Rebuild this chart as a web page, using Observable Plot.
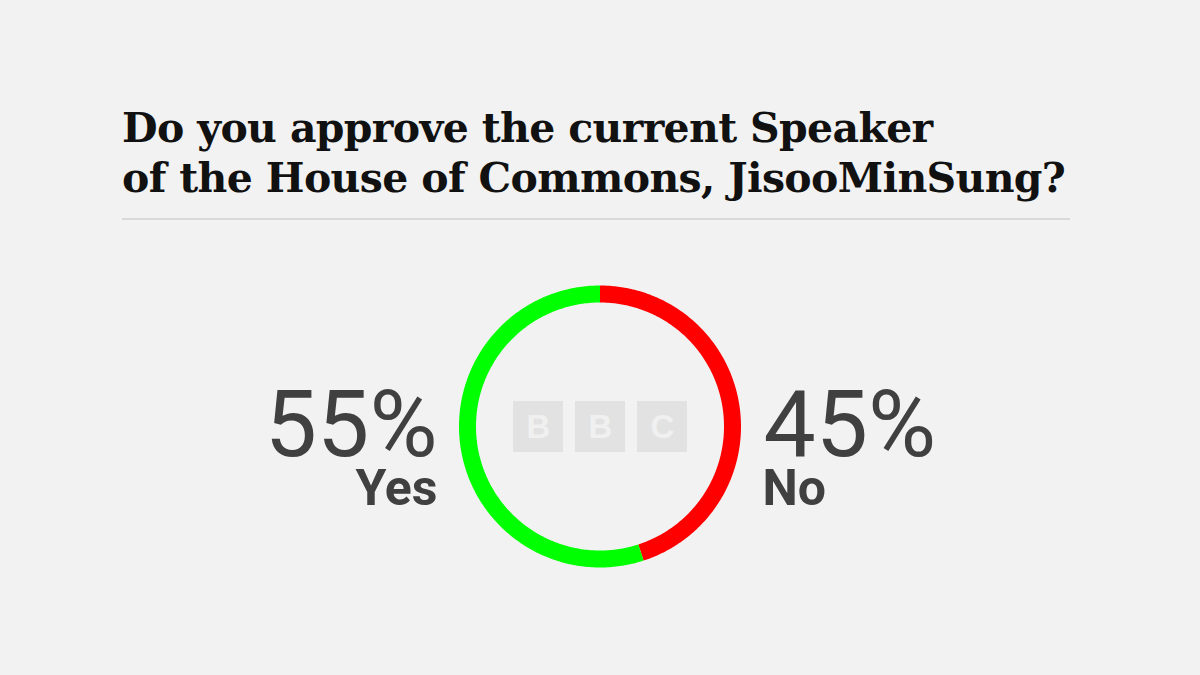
<!DOCTYPE html>
<html>
<head>
<meta charset="utf-8">
<script src="https://cdn.jsdelivr.net/npm/d3@7"></script>
<script src="https://cdn.jsdelivr.net/npm/@observablehq/plot@0.6"></script>
<style>
  html, body { margin: 0; padding: 0; background: #f2f2f2; }
  #page { position: relative; width: 1200px; height: 675px; overflow: hidden; background: #f2f2f2; }
  #header { position: relative; width: 1200px; height: 230px; }
  #title { position: absolute; left: 122px; top: 104px; margin: 0;
    font-family: "DejaVu Serif", serif; font-weight: bold; font-size: 41px; line-height: 49.5px;
    letter-spacing: -0.65px; color: #111; white-space: nowrap; }
  #rule { position: absolute; left: 122px; top: 218px; width: 948px; height: 2px; background: #d9d9d9; }
  #chart svg { display: block; }
</style>
</head>
<body>
<div id="page">
  <div id="header">
    <h1 id="title"></h1>
    <div id="rule"></div>
  </div>
  <div id="chart"></div>
</div>
<script>
// ---- data ----
const titleLines = ["Do you approve the current Speaker", "of the House of Commons, JisooMinSung?"];
const answers = ["No", "Yes"];
const shares = [45, 55];
const colors = ["#ff0000", "#00ff00"];
const logoLetters = ["B", "B", "C"];

// ---- title ----
document.getElementById("title").innerHTML = titleLines.join("<br>");

// ---- derived tables ----
const results = answers.map((a, i) => ({answer: a, share: shares[i], label: shares[i] + "%"}));
const total = d3.sum(shares);
const innerR = 124 / 141;
const ring = [];
let start = 0;
results.forEach(r => {
  const end = start + r.share / total * 2 * Math.PI;
  const n = 240;
  for (let k = 0; k <= n; k++) {
    const a = start + (end - start) * k / n;
    ring.push({answer: r.answer,
      xo: Math.sin(a), yo: Math.cos(a),
      xi: innerR * Math.sin(a), yi: innerR * Math.cos(a)});
  }
  start = end;
});
const u = 1 / 141; // one pixel in ring units
const logo = logoLetters.map((l, i) => ({letter: l, cx: (i - 1) * 62 * u}));

const cy = 196.5, R = 141, cx = 600;
const pctFont = "Roboto, 'Liberation Sans', sans-serif";

const chart = Plot.plot({
  width: 1200,
  height: 445,
  margin: 0,
  style: {background: "transparent", overflow: "visible"},
  x: {domain: [-1, 1], range: [cx - R, cx + R], axis: null},
  y: {domain: [-1, 1], range: [cy + R, cy - R], axis: null},
  color: {domain: answers, range: colors},
  marks: [
    Plot.rect(logo, {x1: d => d.cx - 25 * u, x2: d => d.cx + 25 * u, y1: -25.5 * u, y2: 25.5 * u, fill: "#e2e2e2"}),
    Plot.text(logo, {x: "cx", y: 0, text: "letter", fill: "#f0f0f0", fontSize: 33, fontWeight: "bold",
      fontFamily: "'Liberation Sans', Arial, sans-serif", lineAnchor: "middle", dy: 0}),
    Plot.area(ring, {x1: "xi", y1: "yi", x2: "xo", y2: "yo", z: "answer", fill: "answer", curve: "linear"}),
    // left: Yes
    Plot.text(results.filter(d => d.answer === "Yes"), {x: -1, y: 0, text: "label", textAnchor: "end", dx: -22, dy: -1,
      fontSize: 93, fontFamily: pctFont, fill: "#404040", lineAnchor: "middle"}),
    Plot.text(results.filter(d => d.answer === "Yes"), {x: -1, y: 0, text: "answer", textAnchor: "end", dx: -22, dy: 62,
      fontSize: 50, fontWeight: "bold", fontFamily: pctFont, fill: "#404040", lineAnchor: "middle"}),
    // right: No
    Plot.text(results.filter(d => d.answer === "No"), {x: 1, y: 0, text: "label", textAnchor: "start", dx: 22, dy: -1,
      fontSize: 93, fontFamily: pctFont, fill: "#404040", lineAnchor: "middle"}),
    Plot.text(results.filter(d => d.answer === "No"), {x: 1, y: 0, text: "answer", textAnchor: "start", dx: 21, dy: 62,
      fontSize: 50, fontWeight: "bold", fontFamily: pctFont, fill: "#404040", lineAnchor: "middle"})
  ]
});
document.getElementById("chart").appendChild(chart);
</script>
</body>
</html>
